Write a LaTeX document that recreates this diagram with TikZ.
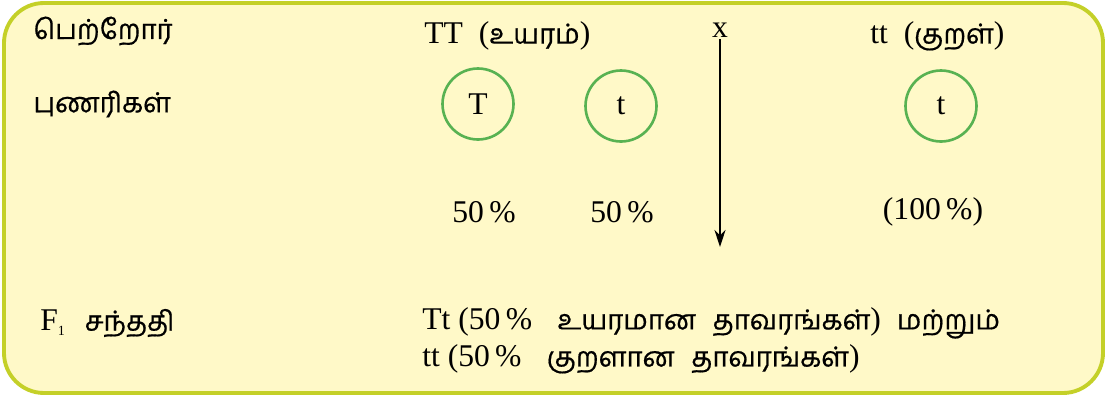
\documentclass[tikz,border=0pt]{standalone}
\usepackage{fontspec}
\setmainfont{Liberation Serif}
\newfontfamily\tamilfont[Script=Tamil,Scale=0.87,FakeBold=0.6]{Hind Madurai}
\newcommand{\ta}[1]{{\tamilfont #1}}
\usetikzlibrary{arrows.meta}
\usepackage{xcolor}
\definecolor{boxfill}{RGB}{255,249,200}
\definecolor{boxline}{RGB}{196,208,40}
\definecolor{gamete}{RGB}{88,178,82}

\begin{document}
\begin{tikzpicture}[x=0.02cm,y=-0.02cm,>={Stealth[length=3.4mm,width=2.2mm]},
  font=\fontsize{18}{21}\selectfont,
  lbl/.style={anchor=west,inner sep=0pt},
  gam/.style={circle,draw=gamete,line width=1.5pt,minimum size=1.42cm,inner sep=0pt}]
\useasboundingbox (0,0) rectangle (1107,396);
\draw[boxline,fill=boxfill,line width=2.2pt,rounded corners=0.8cm] (4,3) rectangle (1103,393);
% row labels
\node[lbl] (parent) at (33,31) {\ta{பெற்றோர்}};
\node[lbl] (gamrow) at (33,104) {\ta{புணரிகள்}};
\node[lbl] (fone) at (40,323) {F\textsubscript{\footnotesize 1}\hspace{0.6em}\ta{சந்ததி}};
% parents
\node[lbl] (tall) at (424,36) {TT\hspace{0.5em}(\ta{உயரம்})};
\node[lbl] (dwarf) at (870,36) {tt\hspace{0.5em}(\ta{குறள்})};
\node[inner sep=1pt] (cross) at (720,30) {x};
\coordinate (arrowend) at (720,247);
\draw[->,line width=1.2pt] (cross) -- (arrowend);
% gametes
\node[gam] (gT) at (478,104) {T};
\node[gam] (gt) at (621,106) {t};
\node[gam] (gtt) at (941,106) {t};
\node (pT) at (484,212) {50\,\%};
\node (pt) at (622,212) {50\,\%};
\node (ptt) at (933,212) {(100\,\%)};
% offspring
\node[lbl] (off1) at (422,323) {Tt (50\,\%\hspace{0.8em}\ta{உயரமான\hspace{0.6em}தாவரங்கள்})\hspace{0.5em}\ta{மற்றும்}};
\node[lbl] (off2) at (422,359) {tt (50\,\%\hspace{0.8em}\ta{குறளான\hspace{0.6em}தாவரங்கள்})};
\end{tikzpicture}
\end{document}
